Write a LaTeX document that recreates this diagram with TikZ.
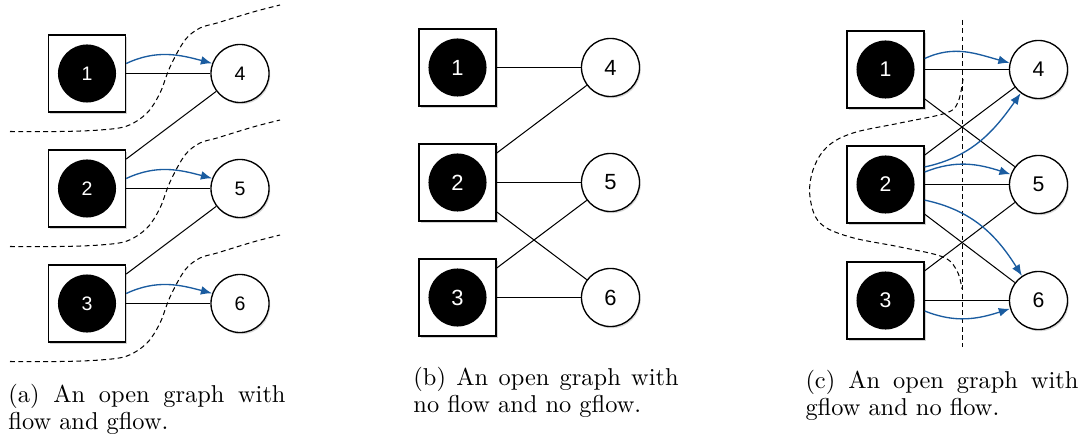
\documentclass[tikz,border=0pt]{standalone}
\usepackage{fontspec}
\newfontfamily\digitfont{Liberation Sans}
\usetikzlibrary{shadows,arrows.meta}
\definecolor{flowblue}{RGB}{26,92,160}
\tikzset{
  sqnode/.style={draw, line width=0.55pt, fill=white, minimum size=31.6pt, inner sep=0pt,
    drop shadow={shadow xshift=0.7pt, shadow yshift=-0.7pt, opacity=0.35}},
  bdot/.style={circle, fill=black, minimum size=23.8pt, inner sep=0pt, text=white},
  wdot/.style={circle, draw, line width=0.55pt, fill=white, minimum size=23.8pt, inner sep=0pt,
    drop shadow={shadow xshift=0.5pt, shadow yshift=-0.7pt, opacity=0.3}},
  fa/.style={font=\digitfont\fontsize{8}{9}\selectfont},
  fb/.style={font=\digitfont\fontsize{9}{10}\selectfont},
  fc/.style={font=\digitfont\fontsize{8.7}{10}\selectfont},
  link/.style={line width=0.42pt},
  flowarrow/.style={draw=flowblue, line width=0.55pt, -{Latex[length=4.6pt,width=3.6pt]}},
  cutline/.style={line width=0.42pt, dash pattern=on 2pt off 1.4pt},
  captext/.style={anchor=base west, inner sep=0pt, align=justify, font=\fontsize{10}{11.3}\selectfont}
}
\begin{document}
\begin{tikzpicture}[x=0.41pt, y=-0.41pt]
\useasboundingbox (0,0) rectangle (1084,437);

% ---------------- panel (a) ----------------
\foreach \y [count=\i] in {0,115,230} {
  \draw[cutline] plot[smooth, tension=0.55] coordinates {(10,131.5+\y) (60,131.5+\y) (100,130+\y) (127,126+\y) (147,113+\y) (160,93+\y) (170,67+\y) (185,40+\y) (200,28+\y) (217,23+\y) (253,12+\y) (280,5+\y)};
}
\node[sqnode] (a1) at (87,73.5) {};
\node[bdot, fa] (a1d) at (a1) {1};
\node[sqnode] (a2) at (87,188.5) {};
\node[bdot, fa] (a2d) at (a2) {2};
\node[sqnode] (a3) at (87,303.5) {};
\node[bdot, fa] (a3d) at (a3) {3};
\node[wdot, fa] (a4) at (240,73.5) {4};
\node[wdot, fa] (a5) at (240,188.5) {5};
\node[wdot, fa] (a6) at (240,303.5) {6};
\draw[link] (a1) -- (a4);
\draw[link] (a2) -- (a4);
\draw[link] (a2) -- (a5);
\draw[link] (a3) -- (a5);
\draw[link] (a3) -- (a6);
\draw[flowarrow] ([yshift=4.1pt]a1.east) to[out=25,in=165] (a4.160);
\draw[flowarrow] ([yshift=4.1pt]a2.east) to[out=25,in=165] (a5.160);
\draw[flowarrow] ([yshift=4.1pt]a3.east) to[out=25,in=165] (a6.160);
\node[captext, text width=113.6pt] (capa) at (8,402) {(a) An open graph with flow and gflow.};

% ---------------- panel (b) ----------------
\node[sqnode] (b1) at (457.5,67.5) {};
\node[bdot, fb] (b1d) at (b1) {1};
\node[sqnode] (b2) at (457.5,182.5) {};
\node[bdot, fb] (b2d) at (b2) {2};
\node[sqnode] (b3) at (457.5,297.5) {};
\node[bdot, fb] (b3d) at (b3) {3};
\node[wdot, fb] (b4) at (610.5,67.5) {4};
\node[wdot, fb] (b5) at (610.5,182.5) {5};
\node[wdot, fb] (b6) at (610.5,297.5) {6};
\draw[link] (b1) -- (b4);
\draw[link] (b2) -- (b4);
\draw[link] (b2) -- (b5);
\draw[link] (b2) -- (b6);
\draw[link] (b3) -- (b5);
\draw[link] (b3) -- (b6);
\node[captext, text width=108.7pt] (capb) at (413,385) {(b) An open graph with no flow and no gflow.};

% ---------------- panel (c) ----------------
\coordinate (ctop) at (962.5,20);
\coordinate (cbot) at (962.5,347);
\draw[cutline] (ctop) -- (cbot);
\draw[cutline] plot[smooth, tension=0.6] coordinates {(963,79) (958,102) (946,113) (900,123) (853,133) (827,147) (813,170) (810,197) (820,223) (850,237) (900,247) (943,257) (957,271) (962,289)};
\node[sqnode] (c1) at (885.5,69.5) {};
\node[bdot, fc] (c1d) at (c1) {1};
\node[sqnode] (c2) at (885.5,184.5) {};
\node[bdot, fc] (c2d) at (c2) {2};
\node[sqnode] (c3) at (885.5,300.5) {};
\node[bdot, fc] (c3d) at (c3) {3};
\node[wdot, fc] (c4) at (1038.5,69.5) {4};
\node[wdot, fc] (c5) at (1038.5,184.5) {5};
\node[wdot, fc] (c6) at (1038.5,300.5) {6};
\draw[link] (c1) -- (c4);
\draw[link] (c1) -- (c5);
\draw[link] (c2) -- (c4);
\draw[link] (c2) -- (c5);
\draw[link] (c2) -- (c6);
\draw[link] (c3) -- (c5);
\draw[link] (c3) -- (c6);
\draw[flowarrow] ([yshift=4.5pt]c1.east) to[out=25,in=165] (c4.167);
\draw[flowarrow] ([yshift=7.2pt]c2.east) to[out=12,in=235] (c4.233);
\draw[flowarrow] ([yshift=5.1pt]c2.east) to[out=22,in=162] (c5.160);
\draw[flowarrow] ([yshift=-6.4pt]c2.east) to[out=-12,in=122] (c6.124);
\draw[flowarrow] ([yshift=-4.3pt]c3.east) to[out=-22,in=198] (c6.196);
\node[captext, text width=111.9pt] (capc) at (805,388) {(c) An open graph with gflow and no flow.};
\end{tikzpicture}
\end{document}
